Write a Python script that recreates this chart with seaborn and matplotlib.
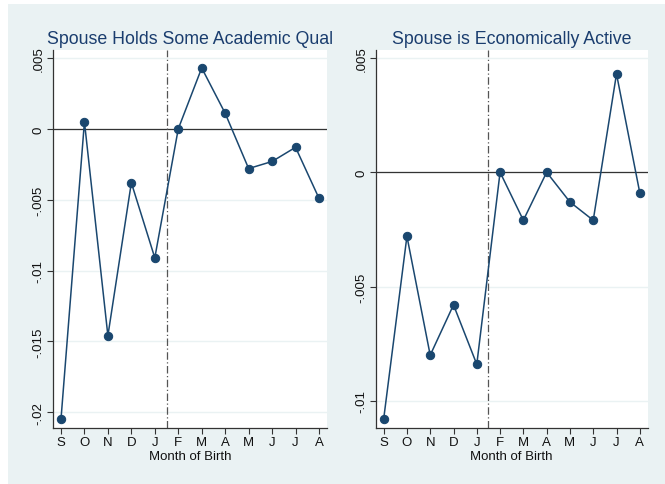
import pandas as pd
import matplotlib.pyplot as plt
import matplotlib.patches as mpatches
import seaborn as sns
import numpy as np

sns.set_style("white")
plt.rcParams['font.family'] = ['Liberation Sans', 'DejaVu Sans']

months = ["S", "O", "N", "D", "J", "F", "M", "A", "M", "J", "J", "A"]
academic = [-0.0205, 0.0005, -0.0146, -0.0038, -0.0091, 0.0, 0.0043, 0.0011,
            -0.0028, -0.0023, -0.0013, -0.0049]
econ = [-0.0108, -0.0028, -0.0080, -0.0058, -0.0084, 0.0, -0.0021, 0.0,
        -0.0013, -0.0021, 0.0043, -0.0009]

acad_ticks = [0.005, 0, -0.005, -0.01, -0.015, -0.02]
acad_labels = [".005", "0", "-.005", "-.01", "-.015", "-.02"]
econ_ticks = [0.005, 0, -0.005, -0.01]
econ_labels = [".005", "0", "-.005", "-.01"]

navy = "#1a476f"
bg = "#eaf2f3"

fig = plt.figure(figsize=(6.65, 4.85), dpi=100)
fig.patch.set_facecolor("white")
fig.patches.append(mpatches.Rectangle((8 / 665, 0), 1, 1 - 5 / 485,
                                      transform=fig.transFigure,
                                      facecolor=bg, edgecolor="none", zorder=-10))

panels = [
    ([0.0797, 0.1161, 0.412, 0.7794], academic, "Spouse Holds Some Academic Qual",
     acad_ticks, acad_labels, (-0.02109, 0.00559)),
    ([0.565, 0.1161, 0.409, 0.7794], econ, "Spouse is Economically Active",
     econ_ticks, econ_labels, (-0.01117, 0.00536)),
]

for rect, vals, title, yt, yl, ylim in panels:
    ax = fig.add_axes(rect)
    ax.set_facecolor("white")
    df = pd.DataFrame({"x": np.arange(len(months)), "y": vals})
    for t in yt:
        ax.axhline(t, color=bg, lw=1.0, zorder=0)
    ax.axhline(0, color="#333333", lw=0.9, zorder=1)
    ax.axvline(4.5, color="#555555", lw=0.9, ls=(0, (6, 2, 1, 2)), zorder=1)
    sns.lineplot(data=df, x="x", y="y", ax=ax, color=navy, lw=1.1,
                 marker="o", markersize=6, markeredgecolor=navy, zorder=3)
    ax.set_xlim(-0.34, 11.34)
    ax.set_ylim(*ylim)
    ax.set_xticks(df["x"])
    ax.set_xticklabels(months, fontsize=9.5, color="#111111")
    ax.set_yticks(yt)
    ax.set_yticklabels(yl, fontsize=9.5, rotation=90, va="center", color="#111111")
    ax.set_xlabel("Month of Birth", fontsize=9.5, color="#111111", labelpad=1.5)
    ax.set_ylabel("")
    ax.set_title(title, fontsize=12.8, color="#1a3d6e", pad=5)
    ax.tick_params(axis="both", direction="out", length=4, width=0.8,
                   color="#333333", pad=2, left=True, bottom=True)
    for s in ["top", "right"]:
        ax.spines[s].set_visible(False)
    for s in ["left", "bottom"]:
        ax.spines[s].set_color("#333333")
        ax.spines[s].set_linewidth(0.9)

fig.savefig("out.png", dpi=100, facecolor=fig.get_facecolor())
